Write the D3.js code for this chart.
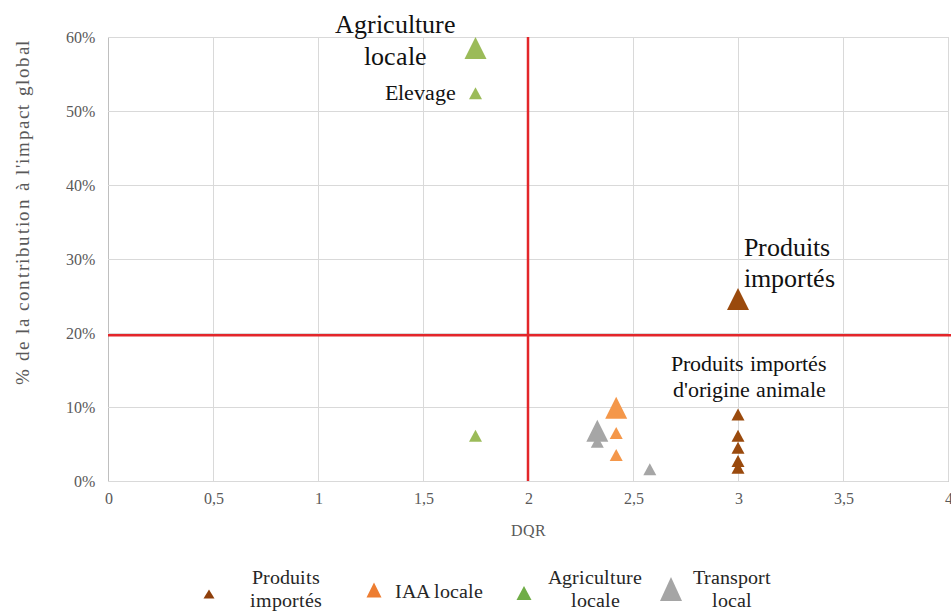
<!DOCTYPE html>
<html>
<head>
<meta charset="utf-8">
<script src="https://cdn.jsdelivr.net/npm/d3@7"></script>
<style>
  @font-face { font-family: "ChartSerif"; src: local("Liberation Serif"), local("LiberationSerif"), local("LiberationSerif-Regular"), local("Tinos"), local("Times New Roman"); }
</style>
</head>
<body style="margin:0;background:#ffffff">
<svg id="chart" width="951" height="615"></svg>
<script>
// ---------------- DATA ----------------
const seriesNames = ["Produits importés", "IAA locale", "Agriculture locale", "Transport local"];

// Produits importés (first point = group total)
const produitsX = [3, 3, 3, 3, 3, 3];
const produitsY = [24.6, 9.0, 6.1, 4.5, 2.7, 1.8];
const produitsTotal = [true, false, false, false, false, false];

// IAA locale
const iaaX = [2.42, 2.42, 2.42];
const iaaY = [9.9, 6.5, 3.5];
const iaaTotal = [true, false, false];

// Agriculture locale
const agriX = [1.75, 1.75, 1.75];
const agriY = [58.5, 52.4, 6.1];
const agriTotal = [true, false, false];

// Transport local
const transX = [2.33, 2.33, 2.58];
const transY = [5.3, 6.8, 1.6];
const transTotal = [false, true, false];

// Thresholds (red lines)
const dqrThreshold = 2;
const impactThreshold = 19.7;

// Ticks
const xTicks = [0, 0.5, 1, 1.5, 2, 2.5, 3, 3.5, 4];
const xTickLabels = ["0", "0,5", "1", "1,5", "2", "2,5", "3", "3,5", "4"];
const yTicks = [0, 10, 20, 30, 40, 50, 60];
const yTickLabels = ["0%", "10%", "20%", "30%", "40%", "50%", "60%"];

const xTitle = "DQR";
const yTitle = "% de la contribution à l'impact global";

// ---------------- STYLE ----------------
const markerColors = ["#9A4A0D", "#F4974A", "#9BBB59", "#A6A6A6"];
const legendColors = ["#8E3F0B", "#ED7D31", "#70AD47", "#A5A5A5"];
const FONT = '"Liberation Serif"';

const svg = d3.select("#chart");
const margin = { left: 108, right: 3, top: 37, bottom: 134 };
const W = 951, H = 615;
const x = d3.scaleLinear().domain([0, 4]).range([margin.left, W - margin.right]);
const y = d3.scaleLinear().domain([0, 60]).range([H - margin.bottom, margin.top]);
const plotW = x(4) - x(0), plotH = y(0) - y(60);

function tri(cx, cy, w, h) {
  return `M${cx},${cy - h / 2}L${cx + w / 2},${cy + h / 2}L${cx - w / 2},${cy + h / 2}Z`;
}

// Grid + x axis
const gx = svg.append("g")
  .attr("transform", `translate(0,${y(0)})`)
  .call(d3.axisBottom(x).tickValues(xTicks)
    .tickFormat((d, i) => xTickLabels[i])
    .tickSize(-plotH).tickPadding(12));
gx.attr("font-family", null).attr("font-size", null);
gx.select(".domain").attr("stroke", "#BFBFBF").attr("stroke-width", 1);
gx.selectAll(".tick line").attr("stroke", "#D9D9D9");
gx.selectAll(".tick text").attr("fill", "#595959").attr("font-size", 16);

const gy = svg.append("g")
  .attr("transform", `translate(${x(0)},0)`)
  .call(d3.axisLeft(y).tickValues(yTicks)
    .tickFormat((d, i) => yTickLabels[i])
    .tickSize(-plotW).tickPadding(13));
gy.attr("font-family", null).attr("font-size", null);
gy.select(".domain").attr("stroke", "#BFBFBF");
gy.selectAll(".tick line").attr("stroke", "#D9D9D9");
gy.selectAll(".tick text").attr("fill", "#595959").attr("font-size", 16);

// Axis titles
svg.append("text").attr("x", x(2)).attr("y", 536).attr("text-anchor", "middle")
  .attr("fill", "#595959").attr("font-size", 16).text(xTitle);
svg.append("text")
  .attr("transform", `translate(29,${213}) rotate(-90)`)
  .attr("text-anchor", "middle")
  .attr("fill", "#595959").attr("font-size", 19)
  .attr("textLength", 345).attr("lengthAdjust", "spacing")
  .text(yTitle);

// Red threshold lines
svg.append("line")
  .attr("x1", x(dqrThreshold)).attr("x2", x(dqrThreshold))
  .attr("y1", y(60)).attr("y2", y(0))
  .attr("stroke", "#E3262A").attr("stroke-width", 2.5);
svg.append("line")
  .attr("x1", x(0)).attr("x2", W)
  .attr("y1", y(impactThreshold)).attr("y2", y(impactThreshold))
  .attr("stroke", "#E3262A").attr("stroke-width", 2.5);

// Markers
const allSeries = [
  { xs: produitsX, ys: produitsY, tot: produitsTotal },
  { xs: iaaX, ys: iaaY, tot: iaaTotal },
  { xs: agriX, ys: agriY, tot: agriTotal },
  { xs: transX, ys: transY, tot: transTotal }
];
allSeries.forEach((s, si) => {
  const pts = s.xs.map((xv, i) => ({ x: xv, y: s.ys[i], total: s.tot[i] }));
  pts.sort((a, b) => (a.total === b.total ? 0 : a.total ? 1 : -1));
  svg.append("g").selectAll("path").data(pts).join("path")
    .attr("d", d => d.total ? tri(x(d.x), y(d.y), 22, 22) : tri(x(d.x), y(d.y), 13, 12))
    .attr("fill", markerColors[si]);
});

// Annotations
const ann = svg.append("g").attr("fill", "#111");
const a1 = ann.append("text").attr("text-anchor", "middle").attr("font-size", 26);
a1.append("tspan").attr("x", 395).attr("y", 33).text("Agriculture");
a1.append("tspan").attr("x", 395).attr("y", 65).text("locale");

ann.append("text").attr("text-anchor", "end").attr("font-size", 22)
  .attr("x", x(agriX[1]) - 20).attr("y", 100).text("Elevage");

const a3 = ann.append("text").attr("text-anchor", "start").attr("font-size", 26);
a3.append("tspan").attr("x", x(3) + 6).attr("y", 256).text("Produits");
a3.append("tspan").attr("x", x(3) + 6).attr("y", 287).text("importés");

const a4 = ann.append("text").attr("text-anchor", "middle").attr("font-size", 22);
a4.append("tspan").attr("x", 749).attr("y", 371).text("Produits importés");
a4.append("tspan").attr("x", 749).attr("y", 397).text("d'origine animale");

// Legend
const legendItems = [
  { mx: 209, my: 594, mw: 11, mh: 9, lines: ["Produits", "importés"], tx: 286, anchor: "middle" },
  { mx: 374, my: 590, mw: 15, mh: 15, lines: ["IAA locale"], tx: 395, anchor: "start" },
  { mx: 524, my: 593, mw: 15, mh: 14, lines: ["Agriculture", "locale"], tx: 595, anchor: "middle" },
  { mx: 671, my: 589, mw: 22, mh: 24, lines: ["Transport", "local"], tx: 732, anchor: "middle" }
];
const lg = svg.append("g");
legendItems.forEach((it, i) => {
  lg.append("path").attr("d", tri(it.mx, it.my, it.mw, it.mh)).attr("fill", legendColors[i]);
  const t = lg.append("text").attr("text-anchor", it.anchor).attr("fill", "#262626")
    .attr("font-size", 20);
  if (it.lines.length === 1) {
    t.append("tspan").attr("x", it.tx).attr("y", 598).text(it.lines[0]);
  } else {
    t.append("tspan").attr("x", it.tx).attr("y", 584).text(it.lines[0]);
    t.append("tspan").attr("x", it.tx).attr("y", 607).text(it.lines[1]);
  }
});

// Serif font on every text element
svg.selectAll("text").style("font-family", '"ChartSerif", "Liberation Serif"');
</script>
</body>
</html>
